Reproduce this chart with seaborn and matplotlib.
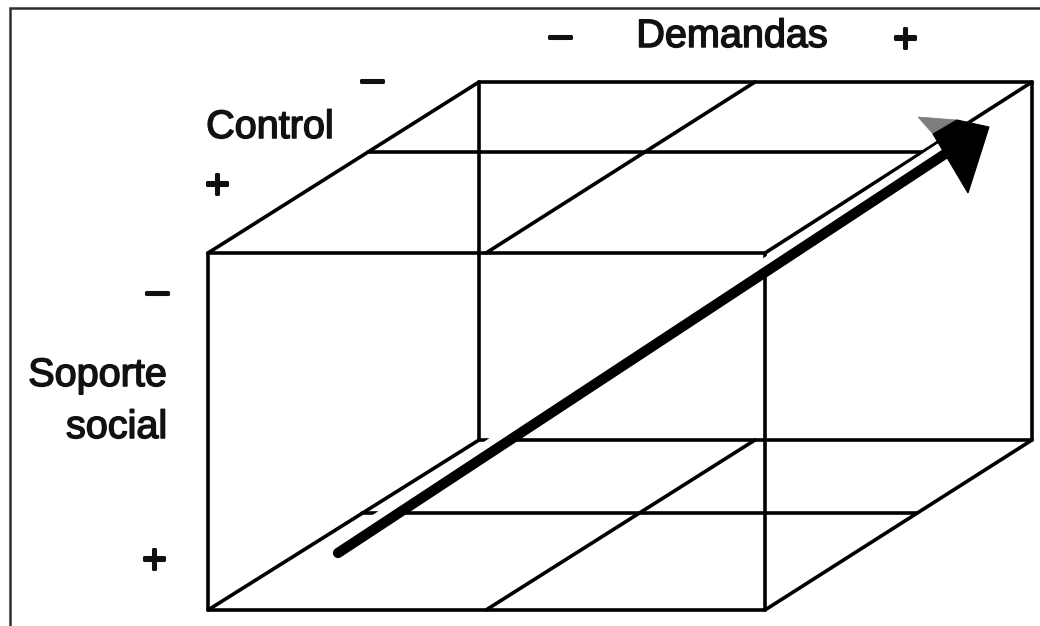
import matplotlib
matplotlib.use("Agg")
import matplotlib.pyplot as plt
import matplotlib.patheffects as pe
import seaborn as sns
import pandas as pd
import numpy as np
from matplotlib.patches import Polygon

# ---- diagram geometry (pixel space of the 1040x626 canvas) ----
front_x = [208, 765]          # front face left/right
front_y = [253, 610]          # front face top/bottom
back_x = [479, 1032]          # back face left/right
back_y = [82, 440]            # back face top/bottom
mid_front_x = 486             # middle "Demandas" split, front edge
mid_back_x = 755              # middle "Demandas" split, back edge
depth_frac_top = 0.59         # "Control" split on top face
depth_frac_bottom = 0.57      # "Control" split on bottom face

arrow_tail = [338, 553]
arrow_end = [948, 152]
head_tip = [989, 127]
head_left = [918, 117]
head_right = [968, 193]
head_grey_cut = [[933, 134], [957, 120]]

frame_left = 10
frame_top = 8

# ---- labels ----
label_text = ["–", "Demandas", "+", "–", "Control", "+", "–", "Soporte", "social", "+"]
label_x = [560, 732, 905, 372, 270, 217, 157, 167, 167, 154]
label_y = [36, 36, 40, 80, 127, 186, 292, 375, 427, 561]
label_ha = ["center", "center", "center", "center", "center", "center", "center", "right", "right", "center"]

# ---- build the edge table ----
def lerp(p, q, f):
    return (p[0] + f * (q[0] - p[0]), p[1] + f * (q[1] - p[1]))

FTL = (front_x[0], front_y[0]); FTR = (front_x[1], front_y[0])
FBL = (front_x[0], front_y[1]); FBR = (front_x[1], front_y[1])
BTL = (back_x[0], back_y[0]); BTR = (back_x[1], back_y[0])
BBL = (back_x[0], back_y[1]); BBR = (back_x[1], back_y[1])

segments = [
    (FTL, FTR), (FTR, FBR), (FBR, FBL), (FBL, FTL),
    (BTL, BTR), (BTR, BBR), (BBR, BBL), (BBL, BTL),
    (FTL, BTL), (FTR, BTR), (FBL, BBL), (FBR, BBR),
    ((mid_front_x, front_y[0]), (mid_back_x, back_y[0])),
    ((mid_front_x, front_y[1]), (mid_back_x, back_y[1])),
    (lerp(FTL, BTL, depth_frac_top), lerp(FTR, BTR, depth_frac_top)),
    (lerp(FBL, BBL, depth_frac_bottom), lerp(FBR, BBR, depth_frac_bottom)),
]
rows = []
for i, (p, q) in enumerate(segments):
    rows.append({"x": p[0], "y": p[1], "seg": i, "ord": 0})
    rows.append({"x": q[0], "y": q[1], "seg": i, "ord": 1})
edges = pd.DataFrame(rows)

# ---- figure ----
sns.set_theme(style="white")
plt.rcParams["font.family"] = ["Liberation Sans", "DejaVu Sans"]

fig = plt.figure(figsize=(10.40, 6.26), dpi=100)
ax = fig.add_axes([0, 0, 1, 1])
fig.patch.set_facecolor("white")

# outer frame
ax.plot([frame_left, frame_left, 1040], [626, frame_top, frame_top],
        color="#2e2e2e", lw=1.8, solid_joinstyle="miter")

# cube wireframe
sns.lineplot(data=edges, x="x", y="y", units="seg", estimator=None, sort=False,
             color="black", lw=2.6, ax=ax, legend=False)
ax.set_xlim(0, 1040)
ax.set_ylim(626, 0)
ax.axis("off")

# arrow: white halo on the upper-left side, then black shaft
d = np.array(arrow_end, float) - np.array(arrow_tail, float)
d /= np.linalg.norm(d)
perp = np.array([d[1], -d[0]])  # up-left normal (y down)
if perp[1] > 0:
    perp = -perp
off = perp * 6.5
ax.plot([arrow_tail[0] + off[0] + d[0] * 4, arrow_end[0] + off[0]],
        [arrow_tail[1] + off[1] + d[1] * 4, arrow_end[1] + off[1]],
        color="white", lw=9, solid_capstyle="butt", zorder=5)
ax.plot([arrow_tail[0], arrow_end[0]], [arrow_tail[1], arrow_end[1]],
        color="black", lw=7.4, solid_capstyle="round", zorder=6)

# arrow head (grey sliver + black body)
ax.add_patch(Polygon([head_left, head_grey_cut[1], head_grey_cut[0]], closed=True,
                     facecolor="#7d7d7d", edgecolor="#7d7d7d", lw=0.5, zorder=6))
ax.add_patch(Polygon([head_grey_cut[0], head_grey_cut[1], head_tip, head_right], closed=True,
                     facecolor="black", edgecolor="black", lw=0.8, zorder=7))

# labels
for t, x, y, ha in zip(label_text, label_x, label_y, label_ha):
    sym = t in ("+", "–")
    ax.text(x, y, t, ha=ha, va="center", fontsize=28.5, color="#111111", zorder=8,
            path_effects=[pe.withStroke(linewidth=2.2 if sym else 1.1, foreground="#111111")])

fig.savefig("out.png", dpi=100, facecolor="white")
